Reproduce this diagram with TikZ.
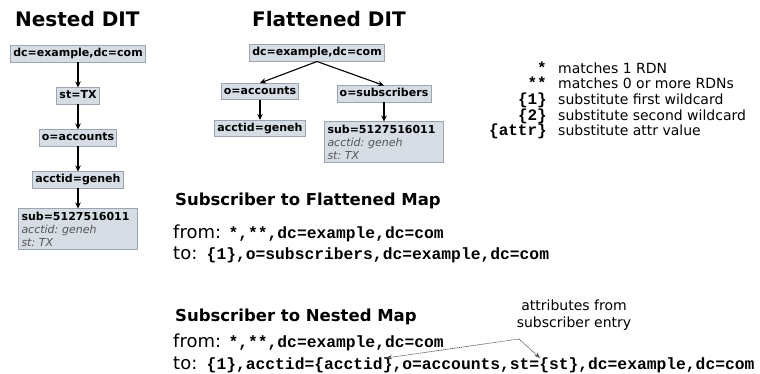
\documentclass[tikz,border=0pt]{standalone}
\usepackage{fontspec}
\setmainfont{DejaVu Sans}
\setmonofont{Liberation Mono}
\usetikzlibrary{positioning,arrows.meta}
\frenchspacing

\definecolor{cajafondo}{HTML}{D6DDE5}
\definecolor{cajaborde}{HTML}{9CA5AF}
\definecolor{atrgris}{HTML}{555555}

\tikzset{
  caja/.style={draw=cajaborde, fill=cajafondo, line width=0.8pt,
    font=\fontsize{11}{13}\selectfont\bfseries,
    text height=8.5pt, text depth=2.5pt, inner sep=2.6pt},
  entrada/.style={draw=cajaborde, fill=cajafondo, line width=0.8pt,
    font=\fontsize{11}{13}\selectfont, align=left,
    text width=113pt, inner sep=3pt},
  titulo/.style={font=\fontsize{20}{24}\selectfont\bfseries, anchor=base west, inner sep=0pt},
  subtitulo/.style={font=\fontsize{16.5}{20}\selectfont\bfseries, anchor=base west, inner sep=0pt},
  rotulo/.style={font=\fontsize{18}{20}\selectfont, anchor=base west, inner sep=0pt},
  regla/.style={font=\fontsize{16.3}{20}\selectfont\ttfamily\bfseries, anchor=base west, inner sep=0pt},
  clave/.style={font=\fontsize{16}{20}\selectfont\ttfamily\bfseries, anchor=base east, inner sep=0pt},
  desc/.style={font=\fontsize{14}{17}\selectfont, anchor=base west, inner sep=0pt},
  hijo/.style={-{Stealth[length=6pt,width=5.5pt]}, line width=1.1pt},
  nota/.style={-{Stealth[length=6pt,width=4.5pt]}, line width=0.6pt, black!70,
    dash pattern=on 1.2pt off 0.6pt},
}

\newcommand{\atr}[1]{{\color{atrgris}\itshape #1}}

\begin{document}
\begin{tikzpicture}[x=1pt, y=-1pt, node distance=25pt]
  \useasboundingbox (0,0) rectangle (760,374);

  % Arbol anidado
  \node[titulo] (tAnidado) at (15,27) {Nested DIT};
  \node[caja] (n1) at (78,54) {dc=example,dc=com};
  \node[caja, below=of n1] (n2) {st=TX};
  \node[caja, below=of n2] (n3) {o=accounts};
  \node[caja, below=of n3] (n4) {acctid=geneh};
  \node[entrada, below=20pt of n4] (n5)
    {\textbf{sub=5127516011}\\ \atr{acctid: geneh}\\ \atr{st: TX}};
  \foreach \a/\b in {n1/n2, n2/n3, n3/n4, n4/n5}
    \draw[hijo] (\a) -- (\b);

  % Arbol aplanado
  \node[titulo] (tPlano) at (252,27) {Flattened DIT};
  \node[caja] (f1) at (317,53) {dc=example,dc=com};
  \node[caja] (f2) at (260,91.5) {o=accounts};
  \node[caja] (f3) at (384,94) {o=subscribers};
  \node[caja, below=20pt of f2] (f4) {acctid=geneh};
  \node[entrada, below=19pt of f3] (f5)
    {\textbf{sub=5127516011}\\ \atr{acctid: geneh}\\ \atr{st: TX}};
  \draw[hijo] (f1.south) -- (f2.north);
  \draw[hijo] (f1.south) -- (f3.north);
  \draw[hijo] (f2) -- (f4);
  \draw[hijo] (f3) -- (f5);

  % Leyenda de comodines
  \foreach \k/\d [count=\i] in {{*}/{matches 1 RDN},
      {**}/{matches 0 or more RDNs},
      {\{1\}}/{substitute first wildcard},
      {\{2\}}/{substitute second wildcard},
      {\{attr\}}/{substitute attr value}} {
    \node[clave] (k\i) at (547,57.5+15.7*\i) {\k};
    \node[desc] (d\i) at (558,57.5+15.7*\i) {\d};
  }

  % Mapa hacia el arbol aplanado
  \node[subtitulo] (mPlano) at (175,205) {Subscriber to Flattened Map};
  \node[rotulo] (fromP) at (173,238) {from:};
  \node[regla, right=7pt of fromP.base east, anchor=base west] (fromPr) {*,**,dc=example,dc=com};
  \node[rotulo] (toP) at (173,259) {to:};
  \node[regla, right=9pt of toP.base east, anchor=base west] (toPr) {\{1\},o=subscribers,dc=example,dc=com};

  % Mapa hacia el arbol anidado
  \node[subtitulo] (mAnidado) at (175,321) {Subscriber to Nested Map};
  \node[rotulo] (fromA) at (173,347) {from:};
  \node[regla, right=7pt of fromA.base east, anchor=base west] (fromAr) {*,**,dc=example,dc=com};
  \node[rotulo] (toA) at (173,369) {to:};
  \node[regla, right=9pt of toA.base east, anchor=base west] (toAr) {\{1\},acctid=\{acctid\},o=accounts,st=\{st\},dc=example,dc=com};

  % Nota de atributos
  \node[desc, anchor=base, align=center] (atributos) at (574,327)
    {attributes from\\subscriber entry};
  \coordinate (origen) at (519,339);
  \coordinate (pAcctid) at (386,358);
  \coordinate (pSt) at (540,358);
  \draw[nota] (origen) -- (pAcctid);
  \draw[nota] (origen) -- (pSt);
\end{tikzpicture}
\end{document}
